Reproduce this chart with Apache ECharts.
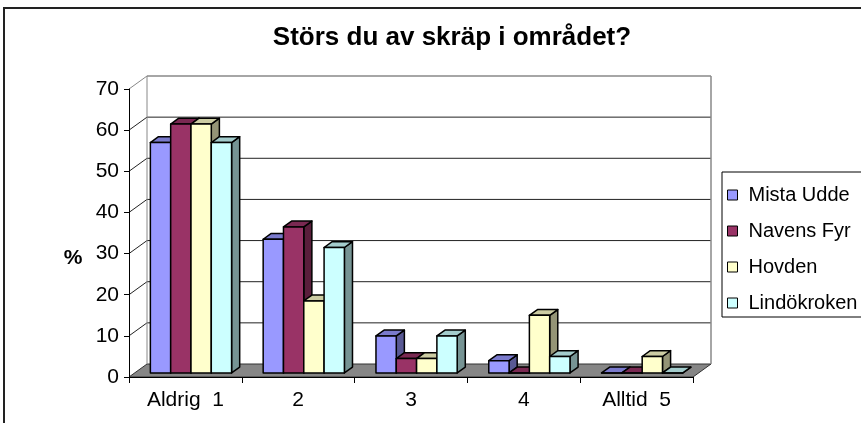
<!DOCTYPE html>
<html>
<head>
<meta charset="utf-8">
<script src="https://cdn.jsdelivr.net/npm/echarts@6/dist/echarts.min.js"></script>
<style>
  html, body { margin: 0; padding: 0; background: #fff; }
  #chart { width: 861px; height: 423px; }
</style>
</head>
<body>
<div id="chart"></div>
<script>
// data (percent)
const categories = ['Aldrig  1', '2', '3', '4', 'Alltid  5'];
const seriesNames = ['Mista Udde', 'Navens Fyr', 'Hovden', 'Lindökroken'];
const mistaUdde = [56, 32.5, 9, 3, 0];
const navensFyr = [60.5, 35.5, 3.5, 0, 0];
const hovden = [60.5, 17.5, 3.5, 14, 4];
const lindokroken = [56, 30.5, 9, 4, 0];
const yTicks = [0, 10, 20, 30, 40, 50, 60, 70];

const allValues = [mistaUdde, navensFyr, hovden, lindokroken];
const colors = ['#9999FF', '#993366', '#FFFFCC', '#CCFFFF'];

// 3d depth of the plot box
const DEPTH_X = 18, DEPTH_Y = 13;
const BAR_START = 0.31, BAR_DEPTH = 0.45;
const FONT = '"Liberation Sans", Arial, sans-serif';

function shade(hex, f) {
  const n = parseInt(hex.slice(1), 16);
  const r = Math.round(((n >> 16) & 255) * f);
  const g = Math.round(((n >> 8) & 255) * f);
  const b = Math.round((n & 255) * f);
  return 'rgb(' + r + ',' + g + ',' + b + ')';
}

// floor + back wall + left wall
function renderWalls(params, api) {
  const band = api.size([1, 0])[0];
  const left = api.coord([0, 0])[0] - band / 2;
  const right = api.coord([categories.length - 1, 0])[0] + band / 2;
  const y0 = api.coord([0, 0])[1];
  const yTop = api.coord([0, yTicks[yTicks.length - 1]])[1];
  const children = [];
  // floor
  children.push({
    type: 'polygon',
    shape: { points: [[left, y0], [right, y0], [right + DEPTH_X, y0 - DEPTH_Y], [left + DEPTH_X, y0 - DEPTH_Y]] },
    style: { fill: '#868686', stroke: '#333', lineWidth: 1 }
  });
  yTicks.forEach(function (v) {
    if (v === 0) return;
    const y = api.coord([0, v])[1];
    const isTop = v === yTicks[yTicks.length - 1];
    const col = isTop ? '#888' : '#222';
    children.push({
      type: 'line',
      shape: { x1: left, y1: y, x2: left + DEPTH_X, y2: y - DEPTH_Y },
      style: { stroke: col, lineWidth: 1 }
    });
    children.push({
      type: 'line',
      shape: { x1: left + DEPTH_X, y1: y - DEPTH_Y, x2: right + DEPTH_X, y2: y - DEPTH_Y },
      style: { stroke: col, lineWidth: isTop ? 1.5 : 1 }
    });
  });
  // wall edges
  children.push({
    type: 'line',
    shape: { x1: left + DEPTH_X, y1: yTop - DEPTH_Y, x2: left + DEPTH_X, y2: y0 - DEPTH_Y },
    style: { stroke: '#888', lineWidth: 1 }
  });
  children.push({
    type: 'line',
    shape: { x1: right + DEPTH_X, y1: yTop - DEPTH_Y, x2: right + DEPTH_X, y2: y0 - DEPTH_Y },
    style: { stroke: '#888', lineWidth: 1.5 }
  });
  return { type: 'group', children: children };
}

function barRenderer(idx) {
  const color = colors[idx];
  return function (params, api) {
    const cat = api.value(0), val = api.value(1);
    const band = api.size([1, 0])[0];
    const base = api.coord([cat, 0]);
    const top = api.coord([cat, val]);
    const groupW = band * 0.72;
    const w = groupW / seriesNames.length;
    const x0 = base[0] - groupW / 2 + idx * w + DEPTH_X * BAR_START;
    const yb = base[1] - DEPTH_Y * BAR_START;
    const yt = top[1] - DEPTH_Y * BAR_START;
    const dx = DEPTH_X * BAR_DEPTH, dy = DEPTH_Y * BAR_DEPTH;
    const edge = { stroke: '#000', lineWidth: 1.5, lineJoin: 'round' };
    return {
      type: 'group',
      children: [
        { type: 'polygon', shape: { points: [[x0 + w, yt], [x0 + w + dx, yt - dy], [x0 + w + dx, yb - dy], [x0 + w, yb]] },
          style: Object.assign({ fill: shade(color, 0.58) }, edge) },
        { type: 'polygon', shape: { points: [[x0, yt], [x0 + w, yt], [x0 + w + dx, yt - dy], [x0 + dx, yt - dy]] },
          style: Object.assign({ fill: shade(color, 0.8) }, edge) },
        { type: 'rect', shape: { x: x0, y: yt, width: w, height: yb - yt },
          style: Object.assign({ fill: color }, edge) }
      ]
    };
  };
}

const chart = echarts.init(document.getElementById('chart'));

const series = [{
  type: 'custom',
  name: 'walls',
  silent: true,
  z: 1,
  renderItem: renderWalls,
  data: [[0, 0]]
}];
seriesNames.forEach(function (name, i) {
  series.push({
    type: 'custom',
    name: name,
    z: 2,
    itemStyle: { color: colors[i] },
    renderItem: barRenderer(i),
    encode: { x: 0, y: 1 },
    data: categories.map(function (c, k) { return [k, allValues[i][k]]; })
  });
});

chart.setOption({
  animation: false,
  backgroundColor: '#fff',
  title: {
    text: 'Störs du av skräp i området?',
    left: 447,
    textAlign: 'center',
    top: 20,
    textStyle: { fontFamily: FONT, fontSize: 26, fontWeight: 'bold', color: '#000' }
  },
  legend: {
    orient: 'vertical',
    left: 722,
    top: 172,
    padding: [13, 10, 4, 5],
    itemGap: 16,
    itemWidth: 10,
    itemHeight: 10,
    icon: 'rect',
    borderColor: '#000',
    borderWidth: 1,
    data: seriesNames,
    itemStyle: { borderColor: '#000', borderWidth: 1 },
    textStyle: { fontFamily: FONT, fontSize: 20, color: '#000', padding: [0, 0, 0, 6] }
  },
  grid: { left: 129, top: 89, width: 564, height: 288 },
  xAxis: {
    type: 'category',
    data: categories,
    z: 10,
    axisLine: { lineStyle: { color: '#000', width: 1 } },
    axisTick: { show: true, length: 6, lineStyle: { color: '#000' } },
    axisLabel: { fontFamily: FONT, fontSize: 21, color: '#000', margin: 13 }
  },
  yAxis: {
    type: 'value',
    min: 0,
    max: 70,
    interval: 10,
    z: 10,
    axisLine: { show: true, lineStyle: { color: '#000', width: 1 } },
    axisTick: { show: true, length: 5, lineStyle: { color: '#000' } },
    splitLine: { show: false },
    axisLabel: { fontFamily: FONT, fontSize: 21, color: '#000', margin: 10 }
  },
  graphic: [
    { type: 'rect', z: 100, silent: true,
      shape: { x: 4, y: 8, width: 1000, height: 1000 },
      style: { fill: 'none', stroke: '#222', lineWidth: 2 } },
    { type: 'text', z: 100, x: 73, y: 258,
      style: { text: '%', font: 'bold 21px ' + FONT, fill: '#000', textAlign: 'center', textVerticalAlign: 'middle' } }
  ],
  series: series
});
</script>
</body>
</html>
